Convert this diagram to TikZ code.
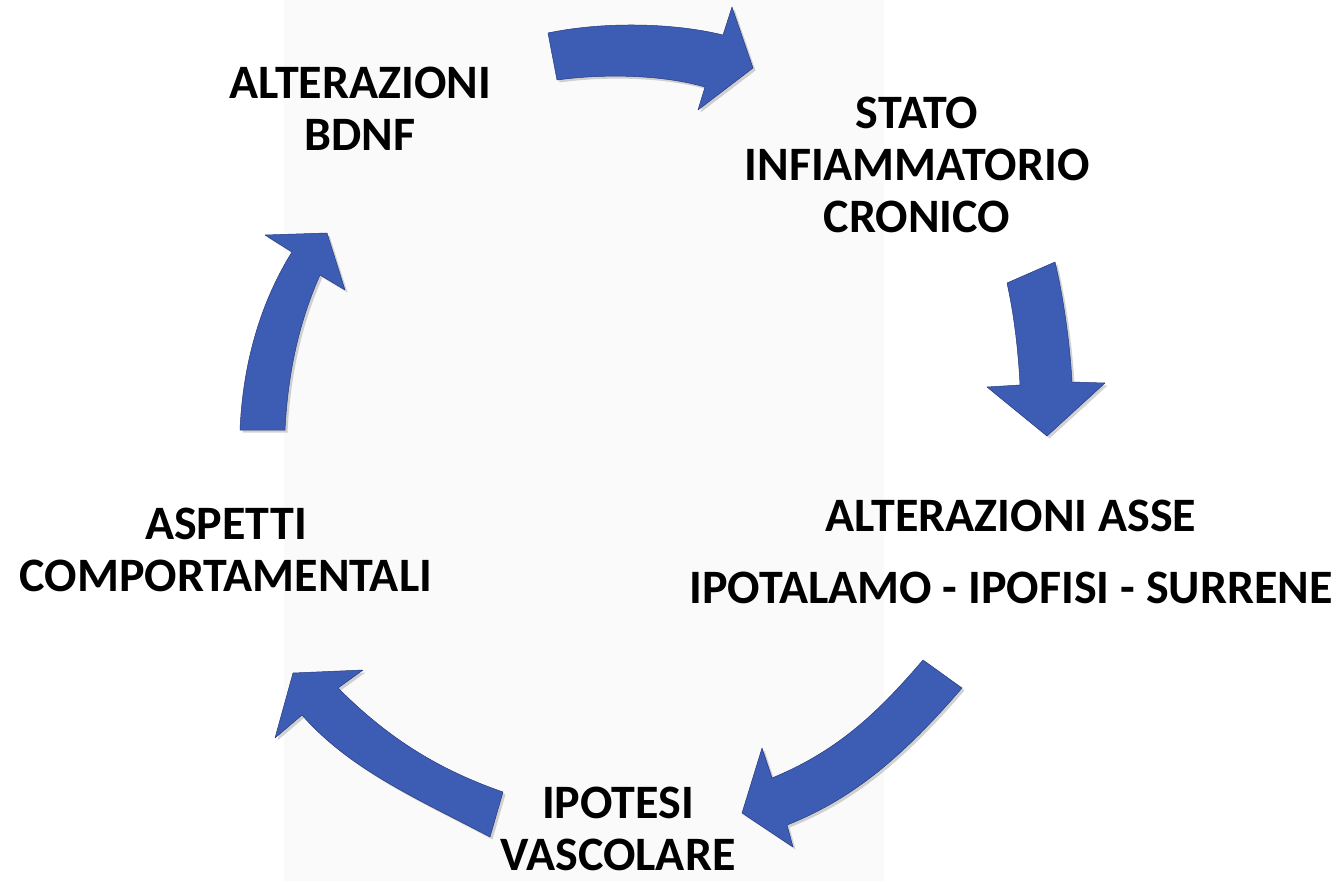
\documentclass[tikz,border=0pt]{standalone}
\usepackage{fontspec}
\setmainfont{Carlito}
\usetikzlibrary{shadows}

\definecolor{arrowblue}{RGB}{61,93,180}
\definecolor{arrowedge}{RGB}{38,58,128}
\definecolor{panelgrey}{RGB}{250,250,250}

\tikzset{
    blockarrow/.style={fill=arrowblue,draw=arrowedge,line width=0.5pt,line join=round,
        drop shadow={opacity=0.35,shadow xshift=2.5pt,shadow yshift=-2.5pt}},
    label/.style={font=\fontsize{48}{52}\selectfont\bfseries,align=center,inner sep=0pt}
}

\begin{document}
\begin{tikzpicture}[x=1pt,y=-1pt]
    \useasboundingbox (0,0) rectangle (1344,881);
    \fill[white] (0,0) rectangle (1344,881);
    \fill[panelgrey] (284,0) rectangle (884,881);

    % top arrow
    \filldraw[blockarrow] (548,33) .. controls (600,22) and (670,22) .. (723,35)
        -- (732,7) -- (753,68) -- (698,110) -- (705,87)
        .. controls (660,74) and (600,74) .. (557,80) -- cycle;
    % right arrow
    \filldraw[blockarrow] (1007,283) -- (1055,262)
        .. controls (1064,300) and (1070,345) .. (1072,382)
        -- (1105,383) -- (1047,436) -- (987,387) -- (1020,385)
        .. controls (1018,345) and (1013,310) .. cycle;
    % lower right arrow
    \filldraw[blockarrow] (923,660) -- (962,688)
        .. controls (900,760) and (850,800) .. (787,825)
        -- (793,847) -- (742,813) -- (762,748) -- (772,778)
        .. controls (840,750) and (880,710) .. cycle;
    % lower left arrow
    \filldraw[blockarrow] (503,792) -- (490,837)
        .. controls (420,800) and (350,770) .. (302,715)
        -- (275,738) -- (293,673) -- (363,670) -- (338,688)
        .. controls (390,740) and (440,770) .. cycle;
    % left arrow
    \filldraw[blockarrow] (240,430) -- (285,430)
        .. controls (288,370) and (300,320) .. (320,275)
        -- (345,290) -- (327,233) -- (265,235) -- (292,252)
        .. controls (262,300) and (243,360) .. cycle;

    \node[label] (bdnf) at (360,109) {ALTERAZIONI\\BDNF};
    \node[label] (infiam) at (917,165) {STATO\\INFIAMMATORIO\\CRONICO};
    \node[label] (asse) at (1011,552) {ALTERAZIONI ASSE\\[20pt]IPOTALAMO - IPOFISI - SURRENE};
    \node[label] (vasc) at (618,829) {IPOTESI\\VASCOLARE};
    \node[label] (compo) at (226,550) {ASPETTI\\COMPORTAMENTALI};
\end{tikzpicture}
\end{document}
